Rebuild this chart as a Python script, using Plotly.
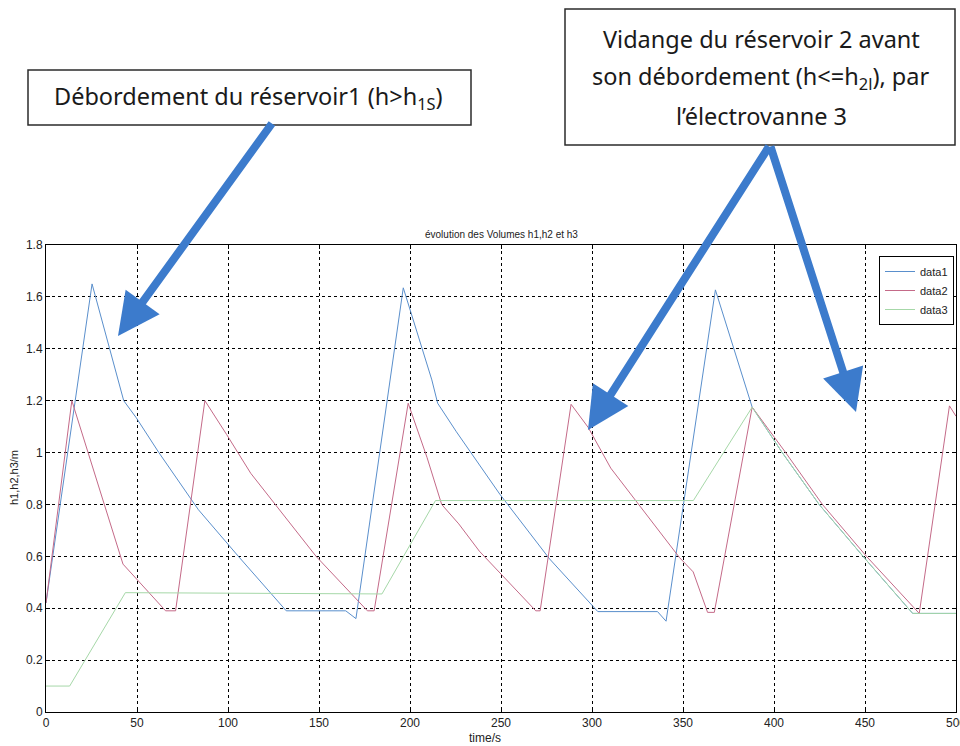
import plotly.graph_objects as go

# Tank levels over time (m), simulation output
t1 = [0, 25.3, 42.7, 49.6, 62, 83.7, 105.7, 132, 164.7, 170.3, 196.3, 212, 215.2,
      225.5, 249.3, 276.7, 303.2, 336, 340.7, 367.8, 388, 404.5, 424.8, 448.9, 476.2, 500]
h1 = [0.42, 1.65, 1.2, 1.134, 1.0, 0.78, 0.6, 0.39, 0.39, 0.36, 1.635, 1.28, 1.19,
      1.08, 0.84, 0.59, 0.387, 0.387, 0.35, 1.627, 1.175, 1.0, 0.8, 0.6, 0.38, 0.38]

t2 = [0, 14.2, 42.3, 65.7, 71.2, 87.3, 99.2, 112.5, 148.4, 176.6, 180.3, 199, 209.4,
      217.4, 226.8, 238.1, 269.1, 271.5, 288.5, 297.9, 310.3, 348.1, 355.6, 363.5,
      367.2, 388, 406.4, 426.6, 450.8, 479.8, 496.4, 500]
h2 = [0.42, 1.2, 0.57, 0.39, 0.39, 1.2, 1.07, 0.92, 0.6, 0.39, 0.39, 1.19, 0.98,
      0.8, 0.725, 0.62, 0.39, 0.39, 1.186, 1.097, 0.94, 0.595, 0.54, 0.384,
      0.384, 1.175, 1.0, 0.8, 0.6, 0.38, 1.18, 1.14]

t3 = [0, 13, 43.6, 184.6, 214, 355.7, 388, 404.5, 424.8, 448.9, 476.2, 500]
h3 = [0.1, 0.1, 0.46, 0.455, 0.815, 0.815, 1.175, 1.0, 0.8, 0.6, 0.38, 0.38]

series_names = ["data1", "data2", "data3"]
series_colors = ["#5a8fcc", "#c46a88", "#a6d8a8"]

x_ticks = [0, 50, 100, 150, 200, 250, 300, 350, 400, 450, 500]
y_ticks = [0, 0.2, 0.4, 0.6, 0.8, 1, 1.2, 1.4, 1.6, 1.8]

callout_1 = "Débordement du réservoir1 (h>h<sub>1S</sub>)"
callout_2 = ["Vidange du réservoir 2 avant",
             "son débordement (h<=h<sub>2l</sub>), par",
             "l’électrovanne 3"]

W, H = 960, 746
L, R, T, B = 46, 956, 245, 712


def px(x):
    return (x - L) / (R - L)


def py(y):
    return (B - y) / (B - T)


fig = go.Figure()
for tx, hy, name, col in zip([t1, t2, t3], [h1, h2, h3], series_names, series_colors):
    fig.add_trace(go.Scatter(x=tx, y=hy, mode="lines", name=name,
                             line=dict(color=col, width=1)))

axis_common = dict(
    showline=True, linecolor="black", linewidth=1, mirror="ticks",
    ticks="inside", ticklen=4, tickcolor="black", automargin=False,
    showgrid=True, gridcolor="black", griddash="dot", gridwidth=1,
    zeroline=False, tickfont=dict(family="Liberation Sans, Arial", size=12, color="#222"),
)

fig.update_xaxes(range=[0, 500], tickvals=x_ticks, ticklabeloverflow="allow", **axis_common)
fig.update_yaxes(range=[0, 1.8], tickvals=y_ticks, **axis_common)

arrow_col = "#3c7bcc"
box_font = dict(family="Noto Sans, Open Sans", size=23.5, color="#1a1a1a")
small_font = dict(family="Liberation Sans, Arial", size=12, color="#222")


def label(text, x, y, font, **kw):
    return dict(text=text, x=px(x), y=py(y), xref="paper", yref="paper",
                xanchor="center", yanchor="middle", showarrow=False, font=font, **kw)


def arrow(tip_x, tip_y, tail_x, tail_y):
    return dict(text="", x=px(tip_x), y=py(tip_y), xref="paper", yref="paper",
                ax=tail_x - tip_x, ay=tail_y - tip_y, showarrow=True,
                arrowhead=2, arrowsize=1.05, arrowwidth=8,
                arrowcolor=arrow_col, standoff=0)


shapes = [
    dict(type="rect", xref="paper", yref="paper",
         x0=px(28), x1=px(471), y0=py(125), y1=py(70),
         line=dict(color="#2b2b2b", width=1.5), fillcolor="white"),
    dict(type="rect", xref="paper", yref="paper",
         x0=px(565), x1=px(955), y0=py(145), y1=py(9),
         line=dict(color="#2b2b2b", width=1.5), fillcolor="white"),
]

annotations = [
    label("évolution des Volumes h1,h2 et h3", 501, 234,
          dict(family="Liberation Sans, Arial", size=10, color="#222")),
    label("time/s", 485, 738, small_font),
    label("h1,h2,h3/m", 14, 478, dict(family="Liberation Sans, Arial", size=11, color="#222"),
          textangle=-90),
    label(callout_1, 248, 97, box_font),
]
for line_text, line_y in zip(callout_2, [39, 78, 116]):
    annotations.append(label(line_text, 761, line_y, box_font))

# arrows from the callout boxes to the curves
annotations += [
    arrow(118, 336, 273, 122),
    arrow(588, 430, 770, 145),
    arrow(856, 412, 770, 145),
]

fig.update_layout(
    width=W, height=H,
    margin=dict(l=L, r=W - R, t=T, b=H - B),
    paper_bgcolor="white", plot_bgcolor="white",
    shapes=shapes, annotations=annotations,
    showlegend=True,
    legend=dict(x=px(954), y=py(256), xanchor="right", yanchor="top",
                bgcolor="white", bordercolor="black", borderwidth=1,
                font=dict(family="Liberation Sans, Arial", size=11, color="#222"),
                tracegroupgap=0),
)

fig.write_html("out.html")
